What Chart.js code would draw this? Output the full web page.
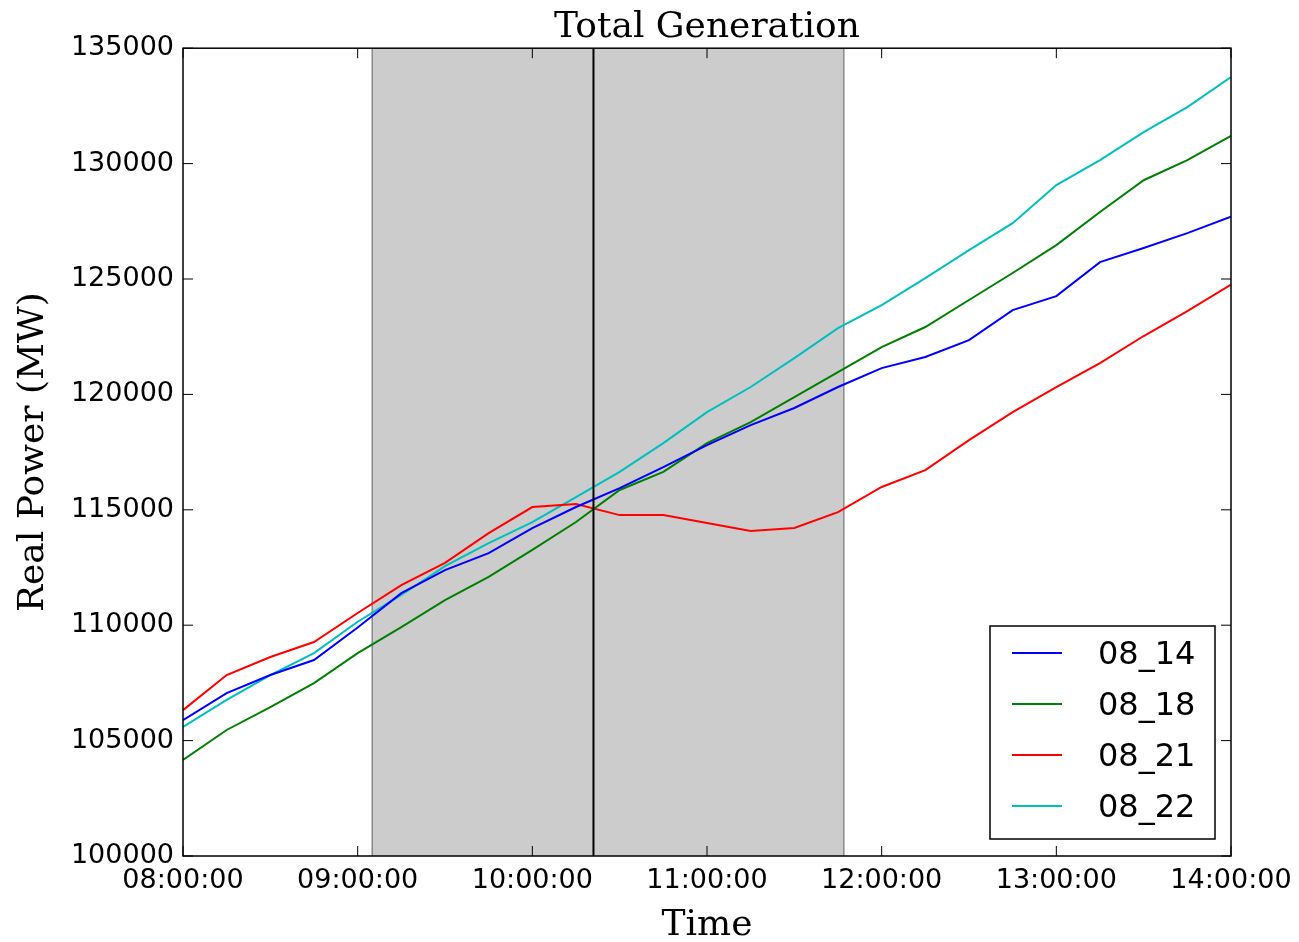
<!DOCTYPE html>
<html>
<head>
<meta charset="utf-8">
<title>Total Generation</title>
<script src="https://cdn.jsdelivr.net/npm/chart.js@4.4.0/dist/chart.umd.min.js"></script>
<style>
  body { margin: 0; background: #fff; }
</style>
</head>
<body>
<canvas id="genChart" width="1299" height="942"></canvas>
<script>
// minutes after 08:00:00, one reading every 15 min
var times = [0, 15, 30, 45, 60, 75, 90, 105, 120, 135, 150, 165, 180,
             195, 210, 225, 240, 255, 270, 285, 300, 315, 330, 345, 360];

var xTickLabels = ['08:00:00', '09:00:00', '10:00:00', '11:00:00', '12:00:00', '13:00:00', '14:00:00'];

var seriesNames = ['08_14', '08_18', '08_21', '08_22'];

var gen0814 = [105890, 107060, 107840, 108490, 109900, 111390, 112390, 113120, 114210, 115120, 115940, 116850, 117800,
               118670, 119410, 120320, 121140, 121620, 122350, 123650, 124260, 125730, 126340, 126990, 127700];
var gen0818 = [104160, 105460, 106450, 107490, 108790, 109920, 111090, 112090, 113260, 114470, 115860, 116640, 117890,
               118800, 119880, 120970, 122050, 122920, 124090, 125260, 126470, 127900, 129280, 130150, 131200];
var gen0821 = [106320, 107840, 108620, 109270, 110530, 111740, 112700, 113990, 115120, 115250, 114770, 114770, 114430,
               114080, 114210, 114900, 115990, 116720, 118020, 119230, 120320, 121360, 122530, 123610, 124760];
var gen0822 = [105590, 106760, 107840, 108790, 110150, 111310, 112560, 113560, 114470, 115550, 116640, 117890, 119230,
               120320, 121570, 122870, 123870, 125040, 126250, 127420, 129070, 130150, 131360, 132450, 133750];

// event window (minutes after 08:00)
var spanStart = 65;
var spanEnd = 227;
var eventTime = 141;

var colors = ['#0000ff', '#008000', '#ff0000', '#00bfbf'];

function toPoints(vals) {
    return times.map(function (t, i) { return { x: t, y: vals[i] }; });
}

// shaded window, frame, inward ticks and boxed legend like the original
var mplStyle = {
    id: 'mplStyle',
    beforeDatasetsDraw: function (chart) {
        var ctx = chart.ctx, a = chart.chartArea, xs = chart.scales.x;
        var x1 = xs.getPixelForValue(spanStart), x2 = xs.getPixelForValue(spanEnd);
        ctx.save();
        ctx.fillStyle = '#cccccc';
        ctx.fillRect(x1, a.top, x2 - x1, a.bottom - a.top);
        ctx.strokeStyle = '#8a8a8a';
        ctx.lineWidth = 1.5;
        ctx.beginPath();
        ctx.moveTo(x1, a.top); ctx.lineTo(x1, a.bottom);
        ctx.moveTo(x2, a.top); ctx.lineTo(x2, a.bottom);
        ctx.stroke();
        ctx.restore();
    },
    afterDatasetsDraw: function (chart) {
        var ctx = chart.ctx, a = chart.chartArea, xs = chart.scales.x, ys = chart.scales.y;
        ctx.save();
        // event marker
        var xm = xs.getPixelForValue(eventTime);
        ctx.strokeStyle = '#000';
        ctx.lineWidth = 2;
        ctx.beginPath();
        ctx.moveTo(xm, a.top); ctx.lineTo(xm, a.bottom);
        ctx.stroke();

        // frame
        ctx.lineWidth = 1.5;
        ctx.strokeRect(a.left, a.top, a.right - a.left, a.bottom - a.top);

        // inward ticks on all four sides
        var tl = 10;
        ctx.lineWidth = 1;
        ctx.beginPath();
        xs.ticks.forEach(function (t) {
            var px = xs.getPixelForValue(t.value);
            ctx.moveTo(px, a.bottom); ctx.lineTo(px, a.bottom - tl);
            ctx.moveTo(px, a.top); ctx.lineTo(px, a.top + tl);
        });
        ys.ticks.forEach(function (t) {
            var py = ys.getPixelForValue(t.value);
            ctx.moveTo(a.left, py); ctx.lineTo(a.left + tl, py);
            ctx.moveTo(a.right, py); ctx.lineTo(a.right - tl, py);
        });
        ctx.stroke();

        // legend box in lower right
        var bw = 225, bh = 213;
        var bx = a.right - 16 - bw, by = a.bottom - 17 - bh;
        ctx.fillStyle = '#fff';
        ctx.fillRect(bx, by, bw, bh);
        ctx.strokeStyle = '#000';
        ctx.lineWidth = 1.5;
        ctx.strokeRect(bx, by, bw, bh);
        ctx.font = '32px "DejaVu Sans"';
        ctx.textBaseline = 'middle';
        chart.data.datasets.forEach(function (ds, i) {
            var ry = by + 27 + i * 51;
            ctx.strokeStyle = ds.borderColor;
            ctx.lineWidth = 2;
            ctx.beginPath();
            ctx.moveTo(bx + 22, ry); ctx.lineTo(bx + 72, ry);
            ctx.stroke();
            ctx.fillStyle = '#000';
            ctx.fillText(ds.label, bx + 108, ry + 3);
        });
        ctx.restore();
    }
};

var datasets = [gen0814, gen0818, gen0821, gen0822].map(function (vals, i) {
    return {
        label: seriesNames[i],
        data: toPoints(vals),
        borderColor: colors[i],
        borderWidth: 2,
        pointRadius: 0,
        tension: 0,
        fill: false
    };
});

var ctx = document.getElementById('genChart').getContext('2d');
var genChart = new Chart(ctx, {
    type: 'line',
    data: { datasets: datasets },
    options: {
        responsive: false,
        animation: false,
        layout: {
            autoPadding: false,
            padding: { left: 0, right: 68, top: 0, bottom: 0 }
        },
        plugins: {
            legend: { display: false },
            tooltip: { enabled: false },
            title: {
                display: true,
                fullSize: false,
                text: 'Total Generation',
                color: '#000',
                font: { family: 'DejaVu Serif', size: 36, weight: 'normal', lineHeight: 1 },
                padding: { top: 10, bottom: 2.2 }
            }
        },
        scales: {
            x: {
                type: 'linear',
                min: 0,
                max: 360,
                grid: { display: false },
                border: { display: false },
                ticks: {
                    stepSize: 60,
                    autoSkip: false,
                    maxRotation: 0,
                    padding: 1,
                    color: '#000',
                    font: { family: 'DejaVu Sans', size: 27 },
                    callback: function (v) { return xTickLabels[v / 60]; }
                },
                title: {
                    display: true,
                    text: 'Time',
                    color: '#000',
                    font: { family: 'DejaVu Serif', size: 36, lineHeight: 0.9 },
                    padding: { top: 0, bottom: 0 }
                },
                afterFit: function (s) { s.height = 86; }
            },
            y: {
                min: 100000,
                max: 135000,
                grid: { display: false },
                border: { display: false },
                ticks: {
                    stepSize: 5000,
                    padding: 1,
                    color: '#000',
                    font: { family: 'DejaVu Sans', size: 27 },
                    callback: function (v) { return String(v); }
                },
                title: {
                    display: true,
                    text: 'Real Power (MW)',
                    color: '#000',
                    font: { family: 'DejaVu Serif', size: 36, lineHeight: 1 },
                    padding: { top: 16, bottom: 0 }
                },
                afterFit: function (s) { s.width = 183; }
            }
        }
    },
    plugins: [mplStyle]
});
</script>
</body>
</html>
